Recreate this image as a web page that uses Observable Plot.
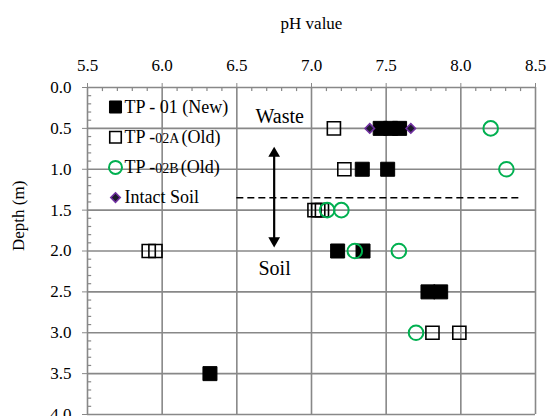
<!DOCTYPE html>
<html><head><meta charset="utf-8">
<script src="https://cdn.jsdelivr.net/npm/d3@7"></script>
<script src="https://cdn.jsdelivr.net/npm/@observablehq/plot@0.6"></script>
<style>
body{margin:0;background:#fff}
#chart svg text{fill:#000}
</style></head><body><div id="chart"></div>
<script>
// axis ticks
const xTicks = [5.5, 6.0, 6.5, 7.0, 7.5, 8.0, 8.5];
const yTicks = [0, 0.5, 1.0, 1.5, 2.0, 2.5, 3.0, 3.5, 4.0];
// series: TP - 01 (New)
const tp01Depth = [0.5, 0.5, 0.5, 1.0, 1.0, 2.0, 2.0, 2.5, 2.5, 3.5];
const tp01PH    = [7.46, 7.53, 7.59, 7.34, 7.51, 7.175, 7.345, 7.78, 7.865, 6.32];
// series: TP -02A (Old)
const tp02aDepth = [0.5, 1.0, 1.5, 1.5, 1.5, 2.0, 2.0, 3.0, 3.0];
const tp02aPH    = [7.15, 7.22, 7.02, 7.045, 7.07, 5.91, 5.955, 7.81, 7.99];
// series: TP -02B (Old)
const tp02bDepth = [0.5, 1.0, 1.5, 1.5, 2.0, 2.0, 3.0];
const tp02bPH    = [8.20, 8.305, 7.105, 7.20, 7.29, 7.585, 7.70];
// series: Intact Soil
const soilDepth = [0.5, 0.5];
const soilPH    = [7.39, 7.665];
// legend / annotations
const seriesNames = ["TP - 01 (New)", "TP -02A(Old)", "TP -02B(Old)", "Intact Soil"];
const boundaryDepth = [1.35];
const boundaryPH = [6.5, 8.4];
const arrowPH = [6.75];
const arrowDepth = [0.70, 1.98];
const annotationLabels = ["Waste", "Soil"];
const annotationPH = [6.625, 6.645];
const annotationDepth = [0.36, 2.22];

const xMinor = d3.range(55, 86).map(v => v / 10).filter(v => !xTicks.includes(v));
const yMinor = d3.range(0, 41).map(v => v / 10).filter(v => !yTicks.includes(v));

const serif = "'Liberation Serif','Times New Roman',serif";

const legendStyles = [
  {symbol: "square", r: 6.8, fill: "#000", stroke: "#000", strokeWidth: 1},
  {symbol: "square", r: 6.5, fill: "none", stroke: "#000", strokeWidth: 1.6},
  {symbol: "circle", r: 6.5, fill: "none", stroke: "#00B050", strokeWidth: 2},
  {symbol: "diamond2", r: 4.3, fill: "#1c1a2a", stroke: "#7030A0", strokeWidth: 1.5}
];
const legendMarks = [];
seriesNames.forEach((name, i) => {
  legendMarks.push(Plot.dot([name], {frameAnchor: "top-left", dx: 28, dy: 19.5 + 30.2 * i, ...legendStyles[i]}));
  legendMarks.push(Plot.text([name], {frameAnchor: "top-left", dx: 37, dy: 19.5 + 30.2 * i, lineAnchor: "middle", text: d => d, textAnchor: "start", fontSize: 18, fill: "#000"}));
});

const chart = Plot.plot({
  width: 547, height: 416,
  marginTop: 87, marginLeft: 87, marginRight: 12, marginBottom: 2,
  style: {fontFamily: serif, fontSize: "17px", color: "#888", background: "#fff", overflow: "visible"},
  x: {domain: [5.5, 8.5], axis: "top", ticks: xTicks, tickFormat: d => d.toFixed(1), tickSize: 5, tickPadding: 12, label: null},
  y: {domain: [0, 4], reverse: true, ticks: yTicks, tickFormat: d => d.toFixed(1), tickSize: 5, tickPadding: 11, label: null},
  marks: [
    Plot.ruleX(xTicks, {x: d => d, stroke: "#888", strokeWidth: 1.6}),
    Plot.ruleY(yTicks, {y: d => d, stroke: "#888", strokeWidth: 1.6}),
    Plot.ruleX(xMinor, {x: d => d, y1: 0, y2: 0.05, stroke: "#888", strokeWidth: 1.2}),
    Plot.ruleY(yMinor, {y: d => d, x1: 5.5, x2: 5.528, stroke: "#888", strokeWidth: 1.2}),
    Plot.ruleY(boundaryDepth, {y: d => d, x1: boundaryPH[0], x2: boundaryPH[1], stroke: "#000", strokeWidth: 1.5, strokeDasharray: "7,4"}),
    Plot.ruleX(arrowPH, {x: d => d, y1: arrowDepth[0], y2: arrowDepth[1], insetTop: 8, insetBottom: 8, stroke: "#000", strokeWidth: 2.2}),
    Plot.dot(arrowPH, {x: d => d, y: arrowDepth[0], symbol: "triangle2", r: 5.6, dy: 8.7, fill: "#000"}),
    Plot.dot(arrowPH, {x: d => d, y: arrowDepth[1], symbol: "triangle2", r: 5.6, dy: -8.7, rotate: 180, fill: "#000"}),
    Plot.text(annotationLabels, {x: (d, i) => annotationPH[i], y: (d, i) => annotationDepth[i], text: d => d, textAnchor: "start", fontSize: 20, fill: "#000"}),
    Plot.dot(tp01PH, {x: d => d, y: (d, i) => tp01Depth[i], symbol: "square", r: 7.9, fill: "#000", stroke: "#000", strokeWidth: 1}),
    Plot.dot(tp02aPH, {x: d => d, y: (d, i) => tp02aDepth[i], symbol: "square", r: 7.4, fill: "none", stroke: "#000", strokeWidth: 1.6}),
    Plot.dot(tp02bPH, {x: d => d, y: (d, i) => tp02bDepth[i], symbol: "circle", r: 7.3, fill: "none", stroke: "#00B050", strokeWidth: 2}),
    Plot.dot(soilPH, {x: d => d, y: (d, i) => soilDepth[i], symbol: "diamond2", r: 4.3, fill: "#1c1a2a", stroke: "#7030A0", strokeWidth: 1.5}),
    ...legendMarks,
    Plot.text(["pH value"], {frameAnchor: "top", dy: -64, lineAnchor: "middle", text: d => d, fontSize: 17, fill: "#000"}),
    Plot.text(["Depth (m)"], {frameAnchor: "left", dx: -69, rotate: -90, lineAnchor: "middle", text: d => d, fontSize: 17, fill: "#000"})
  ]
});
document.getElementById("chart").appendChild(chart);

// smaller "02A"/"02B" inside legend labels
chart.querySelectorAll("text").forEach(t => {
  const m = /^TP -(02[AB])\(Old\)$/.exec(t.textContent);
  if (!m) return;
  t.textContent = "";
  const ns = "http://www.w3.org/2000/svg";
  const a = document.createElementNS(ns, "tspan"); a.textContent = "TP -"; t.appendChild(a);
  const b = document.createElementNS(ns, "tspan"); b.textContent = m[1]; b.setAttribute("font-size", "14"); t.appendChild(b);
  const c = document.createElementNS(ns, "tspan"); c.textContent = "(Old)"; c.setAttribute("dx", "2"); t.appendChild(c);
});
</script></body></html>
